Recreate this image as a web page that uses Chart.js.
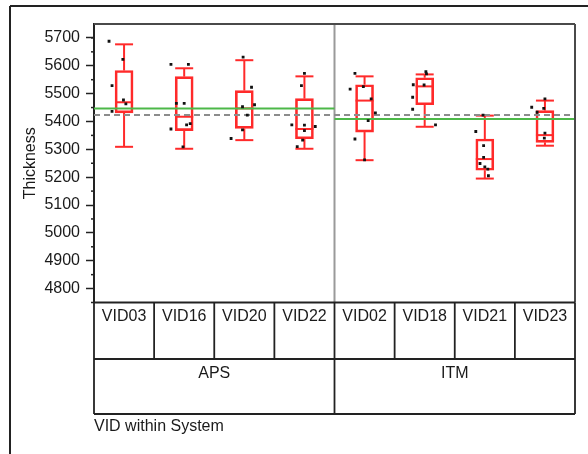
<!DOCTYPE html>
<html>
<head>
<meta charset="utf-8">
<title>Thickness by VID within System</title>
<script src="https://cdn.jsdelivr.net/npm/chart.js@4.4.1/dist/chart.umd.min.js"></script>
<style>
    html, body { margin: 0; padding: 0; background: #fff; }
    canvas { display: block; }
</style>
</head>
<body>
<canvas id="thicknessChart" width="588" height="454"></canvas>
<script>
// categories
const vids    = ['VID03', 'VID16', 'VID20', 'VID22', 'VID02', 'VID18', 'VID21', 'VID23'];
const systems = ['APS', 'APS', 'APS', 'APS', 'ITM', 'ITM', 'ITM', 'ITM'];

// box plot values
const whiskerLow  = [5309, 5302, 5333, 5302, 5261, 5381, 5195, 5313];
const q1          = [5431, 5367, 5375, 5338, 5362, 5460, 5225, 5325];
const median      = [5469, 5417, 5447, 5373, 5475, 5526, 5265, 5351];
const q3          = [5583, 5561, 5511, 5482, 5532, 5557, 5337, 5439];
const whiskerHigh = [5677, 5591, 5620, 5562, 5562, 5569, 5421, 5475];

// raw points per VID, and their horizontal jitter in category units
const pointValues = [
    [5688, 5623, 5529, 5477, 5463, 5436],
    [5605, 5605, 5465, 5465, 5388, 5392, 5373, 5309],
    [5631, 5523, 5453, 5460, 5423, 5370, 5339],
    [5573, 5529, 5388, 5387, 5382, 5367, 5333, 5310],
    [5573, 5516, 5525, 5481, 5431, 5403, 5337, 5262],
    [5579, 5571, 5531, 5532, 5487, 5444, 5388],
    [5423, 5364, 5313, 5271, 5249, 5237, 5229, 5205],
    [5481, 5451, 5447, 5433, 5358, 5340]
];
const pointJitter = [
    [-0.25, -0.02, -0.20, -0.01, 0.03, -0.20],
    [-0.22, 0.07, -0.13, 0.00, 0.04, 0.10, -0.22, -0.02],
    [-0.02, 0.12, -0.03, 0.17, 0.05, -0.03, -0.22],
    [0.00, -0.05, -0.21, 0.00, 0.18, 0.00, -0.03, -0.12],
    [-0.16, -0.24, -0.02, 0.11, 0.18, 0.06, -0.16, 0.00],
    [0.02, 0.03, -0.01, -0.19, -0.20, -0.20, 0.18],
    [-0.03, -0.15, -0.02, -0.02, -0.08, 0.00, 0.05, 0.06],
    [0.00, -0.22, -0.02, -0.13, 0.00, -0.01]
];

// group means and grand mean
const systemNames = ['APS', 'ITM'];
const systemMeans = [5447, 5409];
const grandMean   = 5423;

// axis
const yTicks = [4800, 4900, 5000, 5100, 5200, 5300, 5400, 5500, 5600, 5700];
const yMin = 4750;
const yMax = 5750;
const yTitle = 'Thickness';
const xTitle = 'VID within System';

(function () {
    const canvas = document.getElementById('thicknessChart');
    if (!canvas) return;
    const ctx = canvas.getContext('2d');

    const FONT = '"Liberation Sans", Arial, sans-serif';
    const RED = '#ff2a2a';
    const GREEN = '#4cb848';
    const INK = '#1a1a1a';

    Chart.defaults.font.family = FONT;
    Chart.defaults.font.size = 16;
    Chart.defaults.color = INK;

    function line(c, x1, y1, x2, y2) {
        c.beginPath();
        c.moveTo(x1, y1);
        c.lineTo(x2, y2);
        c.stroke();
    }

    // first and last index of each system
    function groupSpans() {
        return systemNames.map(name => {
            const first = systems.indexOf(name);
            const last = systems.lastIndexOf(name);
            return { name: name, first: first, last: last };
        });
    }

    const boxes = q1.map((v, i) => ({ x: i, y: [v, q3[i]] }));

    const points = [];
    pointValues.forEach((vals, i) => {
        vals.forEach((v, j) => points.push({ x: i + pointJitter[i][j], y: v }));
    });

    const meanLines = groupSpans().map((g, k) => ({
        type: 'line',
        data: [
            { x: g.first - 0.5, y: systemMeans[k] },
            { x: g.last + 0.5, y: systemMeans[k] }
        ],
        borderColor: GREEN,
        borderWidth: 2,
        pointRadius: 0,
        fill: false,
        order: 1
    }));

    // whiskers, caps, medians and the group divider, under the datasets
    const whiskerPlugin = {
        id: 'whiskers',
        beforeDatasetsDraw(chart) {
            const c = chart.ctx;
            const x = chart.scales.x;
            const y = chart.scales.y;
            const area = chart.chartArea;
            c.save();

            c.strokeStyle = '#9a9a9a';
            c.lineWidth = 2;
            groupSpans().slice(1).forEach(g => {
                const px = x.getPixelForValue(g.first - 0.5);
                line(c, px, area.top, px, area.bottom);
            });

            c.strokeStyle = RED;
            c.lineWidth = 2;
            const half = 9;
            vids.forEach((v, i) => {
                const cx = x.getPixelForValue(i);
                line(c, cx, y.getPixelForValue(whiskerLow[i]), cx, y.getPixelForValue(q1[i]));
                line(c, cx, y.getPixelForValue(q3[i]), cx, y.getPixelForValue(whiskerHigh[i]));
                line(c, cx - half, y.getPixelForValue(whiskerLow[i]), cx + half, y.getPixelForValue(whiskerLow[i]));
                line(c, cx - half, y.getPixelForValue(whiskerHigh[i]), cx + half, y.getPixelForValue(whiskerHigh[i]));
                line(c, cx - half, y.getPixelForValue(median[i]), cx + half, y.getPixelForValue(median[i]));
            });
            c.restore();
        },
        afterDraw(chart) {
            const c = chart.ctx;
            const y = chart.scales.y;
            const area = chart.chartArea;
            c.save();

            // minor ticks
            c.strokeStyle = '#222';
            c.lineWidth = 1.5;
            yTicks.concat([yMax]).forEach(v => {
                const m = v - 50;
                if (m < yMin || m > yMax) return;
                const py = y.getPixelForValue(m);
                line(c, area.left - 3, py, area.left, py);
            });

            // plot frame (top, right)
            c.strokeStyle = '#4a4a4a';
            c.lineWidth = 2;
            line(c, area.left, area.top, area.right, area.top);
            line(c, area.right, area.top, area.right, area.bottom);

            // outer frame
            c.strokeStyle = '#222';
            line(c, 10, 6, chart.width, 6);
            line(c, 10, 6, 10, chart.height);
            c.restore();
        }
    };

    // VID / System table under the plot
    const tablePlugin = {
        id: 'vidTable',
        afterDraw(chart) {
            const c = chart.ctx;
            const x = chart.scales.x;
            const area = chart.chartArea;
            const top = area.bottom;
            const mid = top + 56.5;
            const bottom = top + 111.5;
            c.save();
            c.strokeStyle = '#222';
            c.lineWidth = 1.8;

            [top, mid, bottom].forEach(py => line(c, area.left, py, area.right, py));
            for (let i = 0; i <= vids.length; i++) {
                const px = x.getPixelForValue(i - 0.5);
                const edge = i === 0 || i === vids.length || systems[i] !== systems[i - 1];
                line(c, px, top, px, edge ? bottom : mid);
            }

            c.fillStyle = INK;
            c.font = '16px ' + FONT;
            c.textAlign = 'center';
            c.textBaseline = 'middle';
            vids.forEach((v, i) => c.fillText(v, x.getPixelForValue(i), top + 14.5));
            groupSpans().forEach(g => {
                c.fillText(g.name, x.getPixelForValue((g.first + g.last) / 2), mid + 14.5);
            });

            c.textAlign = 'left';
            c.fillText(xTitle, area.left, bottom + 13);
            c.restore();
        }
    };

    new Chart(ctx, {
        type: 'bar',
        data: {
            datasets: [
                {
                    type: 'scatter',
                    data: points,
                    pointStyle: 'rect',
                    pointRadius: 2,
                    backgroundColor: '#111',
                    borderWidth: 0,
                    order: 0
                },
                ...meanLines,
                {
                    type: 'line',
                    data: [{ x: -0.5, y: grandMean }, { x: vids.length - 0.5, y: grandMean }],
                    borderColor: '#8c8c8c',
                    borderWidth: 2,
                    borderDash: [6, 4],
                    pointRadius: 0,
                    fill: false,
                    order: 1
                },
                {
                    type: 'bar',
                    data: boxes,
                    barThickness: 18,
                    backgroundColor: 'rgba(255,255,255,0)',
                    borderColor: RED,
                    borderWidth: 2,
                    borderSkipped: false,
                    order: 2
                }
            ]
        },
        options: {
            responsive: false,
            animation: false,
            layout: {
                padding: { left: 10, top: 24, right: 13, bottom: 151.5 }
            },
            plugins: {
                legend: { display: false },
                tooltip: { enabled: false }
            },
            scales: {
                x: {
                    type: 'linear',
                    display: false,
                    min: -0.5,
                    max: vids.length - 0.5,
                    offset: false
                },
                y: {
                    type: 'linear',
                    min: yMin,
                    max: yMax,
                    afterBuildTicks: function (scale) {
                        scale.ticks = yTicks.map(v => ({ value: v }));
                    },
                    afterFit: function (scale) {
                        scale.width = 84;
                    },
                    ticks: {
                        padding: 6,
                        color: INK,
                        font: { size: 16 },
                        callback: function (value) {
                            return String(value);
                        }
                    },
                    grid: {
                        drawOnChartArea: false,
                        tickLength: 8,
                        tickColor: '#222',
                        tickWidth: 1.5
                    },
                    border: { display: true, color: '#222', width: 2 },
                    title: {
                        display: true,
                        text: yTitle,
                        color: INK,
                        font: { size: 16 },
                        padding: { top: 11, bottom: 0 }
                    }
                }
            }
        },
        plugins: [whiskerPlugin, tablePlugin]
    });
})();
</script>
</body>
</html>
